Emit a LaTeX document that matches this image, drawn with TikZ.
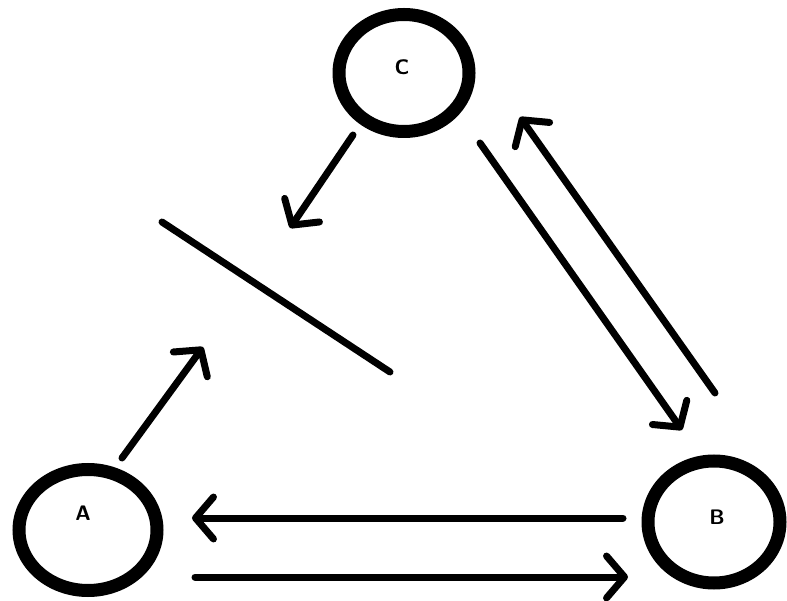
\documentclass[tikz,border=0pt]{standalone}
\usepackage{tikz}
\usetikzlibrary{
  arrows.meta,
  shapes.geometric
}
\tikzset{
  state/.style={
    draw,
    ellipse,
    line width=13pt},
  statelabel/.style={
    font=\sffamily\bfseries\fontsize{21}{21}\selectfont},
  arr/.style={
    -{Straight Barb[length=18pt,width=42pt,round]},
    line width=7pt,
    line cap=round}
  }

\begin{document}
\begin{tikzpicture}[x=1pt, y=-1pt]
      \useasboundingbox (0,0) rectangle (787,601);
      \node[state, minimum width=138pt, minimum height=121pt,
        label={[statelabel, xshift=-5pt, yshift=17pt]center:A}] (a) at (88,530) {};
      \node[state, minimum width=132pt, minimum height=122pt,
        label={[statelabel, xshift=3pt, yshift=5pt]center:B}] (b) at (714,522) {};
      \node[state, minimum width=130pt, minimum height=117pt,
        label={[statelabel, xshift=-2pt, yshift=6pt]center:C}] (c) at (404,73) {};
      % loose ends of the arrows
      \coordinate (ca1) at (353,135);
      \coordinate (ca2) at (290,228);
      \coordinate (ac1) at (122,458);
      \coordinate (ac2) at (203,347);
      \coordinate (cb1) at (480,143);
      \coordinate (cb2) at (682,430);
      \coordinate (bc1) at (715,393);
      \coordinate (bc2) at (520,117);
      \coordinate (ba1) at (623,518);
      \coordinate (ba2) at (192,518);
      \coordinate (ab1) at (195,577);
      \coordinate (ab2) at (628,577);
      \coordinate (cut1) at (162,222);
      \coordinate (cut2) at (390,372);
      \path
      (ca1) edge[arr] (ca2)
      (ac1) edge[arr] (ac2)
      (cb1) edge[arr] (cb2)
      (bc1) edge[arr] (bc2)
      (ba1) edge[arr] (ba2)
      (ab1) edge[arr] (ab2);
      \draw [line width=7pt, line cap=round] (cut1) -- (cut2);
    \end{tikzpicture}
\end{document}
